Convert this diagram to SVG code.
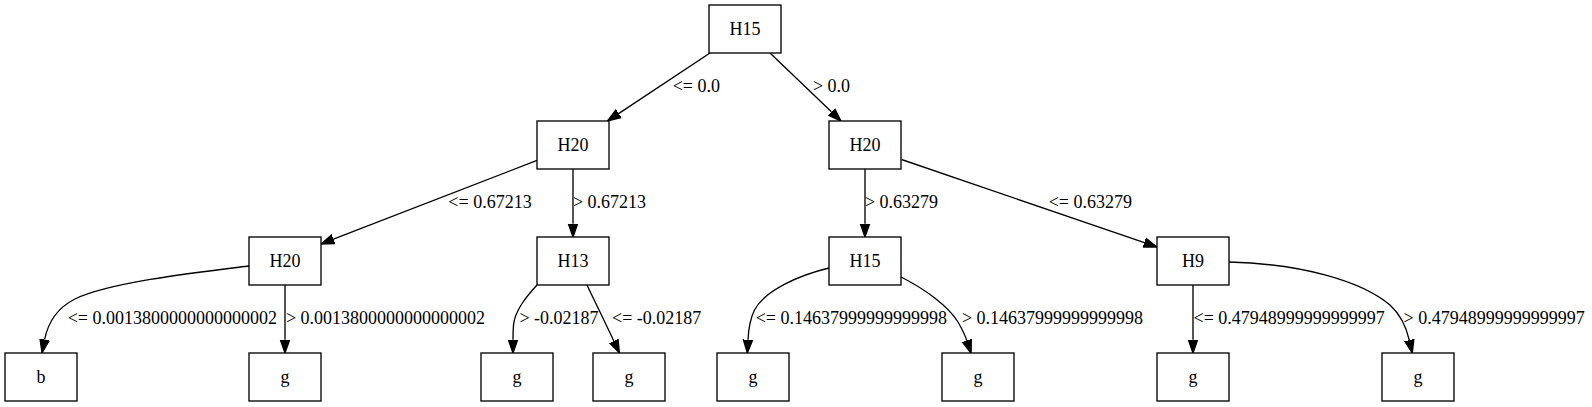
<svg xmlns="http://www.w3.org/2000/svg" width="1592" height="407" viewBox="0 0 1592 407">
<style>
.node rect{fill:#ffffff;stroke:#000000;stroke-width:1.33}
.node text{text-anchor:middle;fill:#000000}
.edge path{fill:none;stroke:#000000;stroke-width:1.33}
.lbl{text-anchor:middle;fill:#000000}
</style>
<defs>
<marker id="arr" markerUnits="userSpaceOnUse" viewBox="0 -6 15 12" markerWidth="15" markerHeight="12" refX="0" refY="0" orient="auto">
<path d="M0,-4.67 L13.3,0 L0,4.67 Z" fill="#000000" stroke="#000000" stroke-width="1.33"/>
</marker>
</defs>
<rect width="1592" height="407" fill="#ffffff"/>
<g font-family="Liberation Serif, Times New Roman, Times, serif" font-size="18">
<g id="connectors">
<g class="edge"><path d="M710,53 L618.6,113.6" marker-end="url(#arr)"/><text class="lbl" x="696.3" y="91.7">&lt;= 0.0</text></g>
<g class="edge"><path d="M770,53 L831.4,111.8" marker-end="url(#arr)"/><text class="lbl" x="831.5" y="91.7">&gt; 0.0</text></g>
<g class="edge"><path d="M537,160.4 L333.4,239.2" marker-end="url(#arr)"/><text class="lbl" x="490" y="207.7">&lt;= 0.67213</text></g>
<g class="edge"><path d="M573,169 L573,223.7" marker-end="url(#arr)"/><text class="lbl" x="609.5" y="207.7">&gt; 0.67213</text></g>
<g class="edge"><path d="M865,169 L865,223.7" marker-end="url(#arr)"/><text class="lbl" x="901.5" y="207.7">&gt; 0.63279</text></g>
<g class="edge"><path d="M901.5,159.5 L1144.4,242.7" marker-end="url(#arr)"/><text class="lbl" x="1090.3" y="207.7">&lt;= 0.63279</text></g>
<g class="edge"><path d="M249,266 C200,272 110,282 75,299 C55,309 47.5,325 44.6,339.7" marker-end="url(#arr)"/><text class="lbl" x="172.3" y="323.7">&lt;= 0.0013800000000000002</text></g>
<g class="edge"><path d="M285,285 L285,339.7" marker-end="url(#arr)"/><text class="lbl" x="385.5" y="323.7">&gt; 0.0013800000000000002</text></g>
<g class="edge"><path d="M537,285 C527,296 515,310 513.5,325 C513.1,330 513,335 513,339.7" marker-end="url(#arr)"/><text class="lbl" x="559" y="323.7">&gt; -0.02187</text></g>
<g class="edge"><path d="M587,285 C595,302 604,320 613.8,341" marker-end="url(#arr)"/><text class="lbl" x="656.7" y="323.7">&lt;= -0.02187</text></g>
<g class="edge"><path d="M829,268 C800,275 765,290 754.5,310 C750.5,318 748.5,330 748,339.7" marker-end="url(#arr)"/><text class="lbl" x="851.3" y="323.7">&lt;= 0.14637999999999998</text></g>
<g class="edge"><path d="M901,277 C925,289 948,306 958,322 C962,329 965,335 966.9,340.7" marker-end="url(#arr)"/><text class="lbl" x="1052.5" y="323.7">&gt; 0.14637999999999998</text></g>
<g class="edge"><path d="M1193,285 L1193,339.7" marker-end="url(#arr)"/><text class="lbl" x="1289.2" y="323.7">&lt;= 0.47948999999999997</text></g>
<g class="edge"><path d="M1229,262 C1300,264 1360,280 1390,305 C1401,315 1406.5,328 1409.3,340.2" marker-end="url(#arr)"/><text class="lbl" x="1494.2" y="323.7">&gt; 0.47948999999999997</text></g>
</g>
<g id="n0" class="node"><rect x="709" y="5" width="72" height="48"/><text x="745" y="34.5">H15</text></g>
<g id="n1" class="node"><rect x="537" y="121" width="72" height="48"/><text x="573" y="150.5">H20</text></g>
<g id="n2" class="node"><rect x="829" y="121" width="72" height="48"/><text x="865" y="150.5">H20</text></g>
<g id="n3" class="node"><rect x="249" y="237" width="72" height="48"/><text x="285" y="266.5">H20</text></g>
<g id="n4" class="node"><rect x="537" y="237" width="72" height="48"/><text x="573" y="266.5">H13</text></g>
<g id="n5" class="node"><rect x="829" y="237" width="72" height="48"/><text x="865" y="266.5">H15</text></g>
<g id="n6" class="node"><rect x="1157" y="237" width="72" height="48"/><text x="1193" y="266.5">H9</text></g>
<g id="n7" class="node"><rect x="5" y="353" width="72" height="48"/><text x="41" y="382.5">b</text></g>
<g id="n8" class="node"><rect x="249" y="353" width="72" height="48"/><text x="285" y="382.5">g</text></g>
<g id="n9" class="node"><rect x="481" y="353" width="72" height="48"/><text x="517" y="382.5">g</text></g>
<g id="n10" class="node"><rect x="593" y="353" width="72" height="48"/><text x="629" y="382.5">g</text></g>
<g id="n11" class="node"><rect x="717" y="353" width="72" height="48"/><text x="753" y="382.5">g</text></g>
<g id="n12" class="node"><rect x="942" y="353" width="72" height="48"/><text x="978" y="382.5">g</text></g>
<g id="n13" class="node"><rect x="1157" y="353" width="72" height="48"/><text x="1193" y="382.5">g</text></g>
<g id="n14" class="node"><rect x="1382" y="353" width="72" height="48"/><text x="1418" y="382.5">g</text></g>
</g>
</svg>
